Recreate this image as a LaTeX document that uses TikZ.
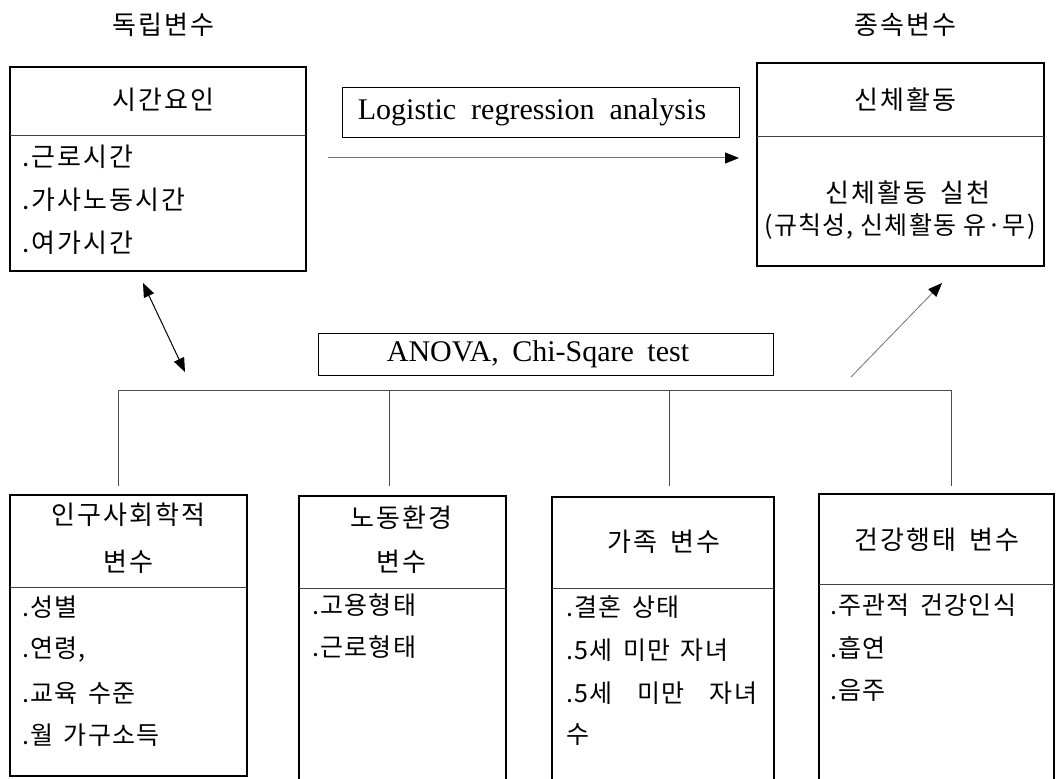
\documentclass[tikz,border=0pt]{standalone}
\usepackage{fontspec}
\setmainfont{Liberation Serif}
\newfontfamily\krw[LetterSpace=8]{Noto Sans CJK KR}
\newfontfamily\krn[LetterSpace=5]{Noto Sans CJK KR}
\usetikzlibrary{arrows.meta}
\begin{document}
\begin{tikzpicture}[x=1pt,y=-1pt,
  box/.style={draw=black, line width=1.2pt, inner sep=0pt, fill=none},
  divider/.style={draw=black!75, line width=1pt},
  wtext/.style={font=\fontsize{26}{30}\selectfont\krw, inner sep=0pt},
  ntext/.style={font=\fontsize{25}{30}\selectfont\krn, inner sep=0pt, anchor=west},
  item/.style={font=\fontsize{26}{30}\selectfont\krw, inner sep=0pt, anchor=west},
  latin/.style={font=\fontsize{30}{34}\selectfont, inner sep=0pt},
  link/.style={draw=black!55, line width=1pt},
  tip/.style={-{Triangle[length=14pt,width=11pt,color=black]}}
]
\useasboundingbox (0,0) rectangle (1056,778);
\fill[white] (0,0) rectangle (1056,778);

% headings
\node[wtext] (hind) at (163,25) {독립변수};
\node[wtext] (hdep) at (905,25) {종속변수};

% time factor box
\node[box, minimum width=296pt, minimum height=204pt] (time) at (158,169) {};
\draw[divider] (10,136) -- (306,136);
\node[wtext] (timet) at (163,100) {시간요인};
\node[item] (t1) at (22,157) {.근로시간};
\node[item] (t2) at (22,200) {.가사노동시간};
\node[item] (t3) at (22,243) {.여가시간};

% physical activity box
\node[box, minimum width=287pt, minimum height=203pt] (act) at (900.5,164.5) {};
\draw[divider] (757,137) -- (1044,137);
\node[wtext] (actt) at (905,100) {신체활동};
\node[wtext] (a1) at (908,193) {신체활동\hspace{0.2em} 실천};
\node[ntext, anchor=center] (a2) at (900,227) {(규칙성, 신체활동 유·무)};

% logistic
\node[box, line width=0.9pt, minimum width=397pt, minimum height=50pt] (logit) at (540.5,112) {};
\node[latin] (logitt) at (532,112) {Logistic\hspace{0.5em}regression\hspace{0.5em}analysis};
\coordinate (la) at (328,158);
\coordinate (lb) at (739,158);
\draw[link, tip] (la) -- (lb);

% anova
\node[box, line width=0.9pt, minimum width=455pt, minimum height=42pt] (anova) at (545.5,354) {};
\node[latin] (anovat) at (538,354) {ANOVA,\hspace{0.2em} Chi-Sqare\hspace{0.2em} test};

% arrows
\coordinate (da) at (143,283);
\coordinate (db) at (185,372);
\draw[black, line width=1pt, {Triangle[length=14pt,width=11pt]}-{Triangle[length=14pt,width=11pt]}] (da) -- (db);
\coordinate (ra) at (851,377);
\coordinate (rb) at (942,283);
\draw[link, line width=0.8pt, tip] (ra) -- (rb);

% bus
\coordinate (bus1) at (118,390);
\coordinate (bus2) at (389,390);
\coordinate (bus3) at (669,390);
\coordinate (bus4) at (951,390);
\coordinate (d1) at (118,486);
\coordinate (d2) at (389,486);
\coordinate (d3) at (669,486);
\coordinate (d4) at (951,486);
\draw[link, draw=black!70] (bus1) -- (bus4);
\draw[link, draw=black!70] (bus1) -- (d1);
\draw[link, draw=black!70] (bus2) -- (d2);
\draw[link, draw=black!70] (bus3) -- (d3);
\draw[link, draw=black!70] (bus4) -- (d4);

% bottom boxes
\node[box, minimum width=237pt, minimum height=281pt] (b1) at (128.5,635.5) {};
\draw[divider] (10,587) -- (247,587);
\node[wtext] (b1t) at (128,515) {인구사회학적};
\node[wtext] (b1u) at (128,562) {변수};
\node[ntext] (b1a) at (22,607) {.성별};
\node[ntext] (b1b) at (22,650) {.연령,};
\node[ntext] (b1c) at (22,693) {.교육\hspace{0.15em} 수준};
\node[ntext] (b1d) at (22,735) {.월\hspace{0.15em} 가구소득};

\node[box, minimum width=207pt, minimum height=284pt] (b2) at (402.5,638) {};
\draw[divider] (299,588) -- (506,588);
\node[wtext] (b2t) at (401,518) {노동환경};
\node[wtext] (b2u) at (401,562) {변수};
\node[ntext] (b2a) at (312,605) {.고용형태};
\node[ntext] (b2b) at (312,647) {.근로형태};

\node[box, minimum width=222pt, minimum height=284pt] (b3) at (663,639) {};
\draw[divider] (552,588) -- (774,588);
\node[wtext] (b3t) at (664,542) {가족\hspace{0.2em} 변수};
\node[ntext] (b3a) at (566,607) {.결혼\hspace{0.15em} 상태};
\node[ntext] (b3b) at (566,650) {.5세\hspace{0.15em} 미만\hspace{0.15em} 자녀};
\node[ntext] (b3c) at (566,693) {\hbox to 191pt{.5세\hfill 미만\hfill 자녀}};
\node[ntext] (b3d) at (566,735) {수};

\node[box, minimum width=235pt, minimum height=288pt] (b4) at (936.5,638) {};
\draw[divider] (819,584) -- (1054,584);
\node[wtext] (b4t) at (937,540) {건강행태\hspace{0.2em} 변수};
\node[ntext] (b4a) at (830,605) {.주관적\hspace{0.15em} 건강인식};
\node[ntext] (b4b) at (830,648) {.흡연};
\node[ntext] (b4c) at (830,690) {.음주};
\end{tikzpicture}
\end{document}
